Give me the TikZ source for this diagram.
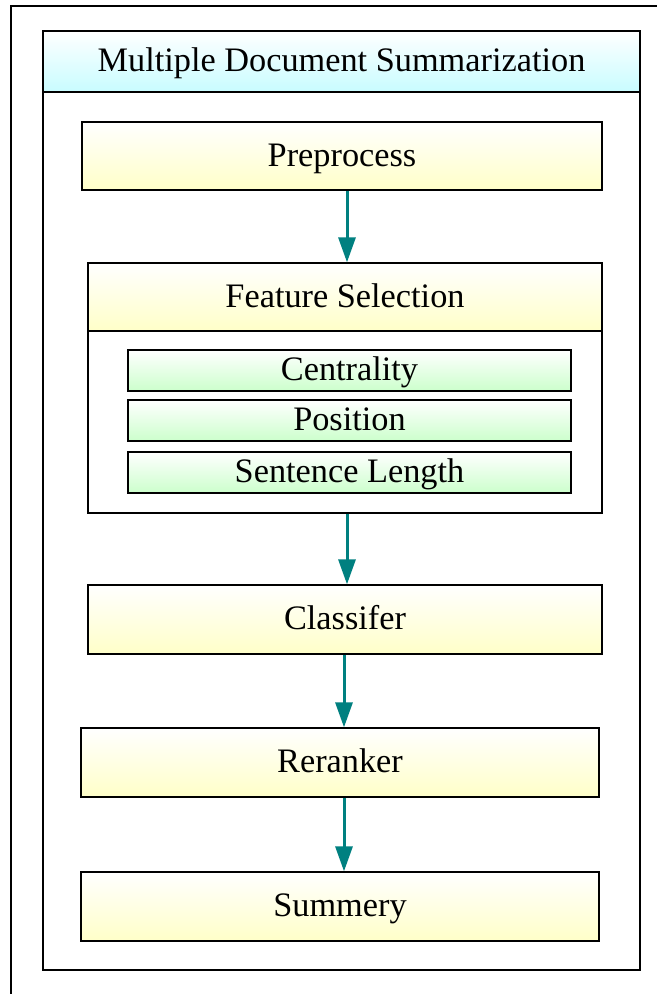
\documentclass[tikz,border=0pt]{standalone}
\usepackage{fontspec}
\setmainfont{Liberation Serif}
\usetikzlibrary{arrows.meta}
\definecolor{lyellow}{HTML}{FFFFC8}
\definecolor{lgreen}{HTML}{CCFFCC}
\definecolor{lcyan}{HTML}{C8FCFF}
\definecolor{teal2}{HTML}{008080}
\begin{document}
\begin{tikzpicture}[x=1pt,y=1pt,
  frame/.style={draw=black, line width=1.3pt},
  txt/.style={inner sep=0pt, text height=26pt, text depth=6pt, font=\fontsize{34.3}{40}\selectfont},
  ybox/.style={draw=black, line width=1.3pt, top color=white, bottom color=lyellow, txt},
  gbox/.style={draw=black, line width=1.3pt, top color=white, bottom color=lgreen, txt},
  cbox/.style={draw=black, line width=1.3pt, top color=white, bottom color=lcyan, txt},
  arr/.style={draw=teal2, line width=3pt, -{Triangle[width=17pt,length=25pt]}}
]
\useasboundingbox (0,0) rectangle (657,-994);
\fill[white] (0,0) rectangle (657,-994);
% outer frame (cropped)
\draw[frame] (11,-994) -- (11,-6) -- (657,-6);
% inner frame
\node[frame, minimum width=597, minimum height=939, inner sep=0pt] (inner) at (341.5,-500.5) {};
\node[cbox, minimum width=597, minimum height=61] (title) at (341.5,-61.5) {Multiple Document Summarization};
% boxes
\node[ybox, minimum width=520, minimum height=68] (pre) at (342,-156) {Preprocess};
\node[frame, fill=white, minimum width=514, minimum height=250, inner sep=0pt] (featout) at (345,-388) {};
\node[ybox, minimum width=514, minimum height=68] (feat) at (345,-297) {Feature Selection};
\node[gbox, minimum width=443, minimum height=41] (cen) at (349.5,-370.5) {Centrality};
\node[gbox, minimum width=443, minimum height=41] (pos) at (349.5,-420.5) {Position};
\node[gbox, minimum width=443, minimum height=41] (len) at (349.5,-472.5) {Sentence Length};
\node[ybox, minimum width=514, minimum height=69] (cls) at (345,-619.5) {Classifer};
\node[ybox, minimum width=518, minimum height=69] (rer) at (340,-762.5) {Reranker};
\node[ybox, minimum width=518, minimum height=69] (sum) at (340,-906.5) {Summery};
% arrows
\coordinate (xa) at (347,0);
\coordinate (xb) at (344,0);
\draw[arr] (pre.south -| xa) -- (feat.north -| xa);
\draw[arr] (featout.south -| xa) -- (cls.north -| xa);
\draw[arr] (cls.south -| xb) -- (rer.north -| xb);
\draw[arr] (rer.south -| xb) -- (sum.north -| xb);
\end{tikzpicture}
\end{document}
